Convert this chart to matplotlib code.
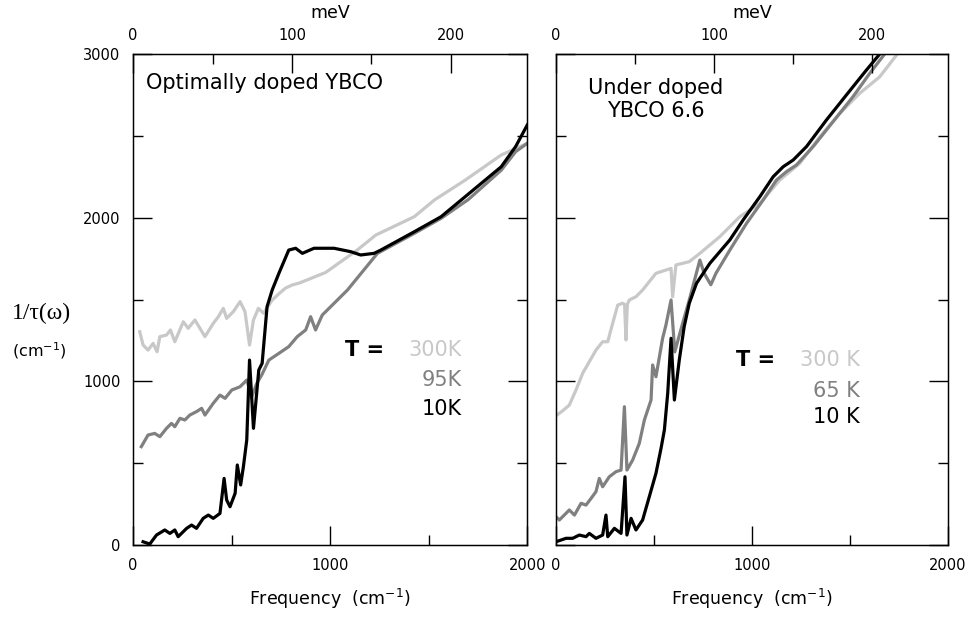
import numpy as np
import matplotlib.pyplot as plt
from matplotlib.ticker import MultipleLocator

# optimally doped YBCO, 1/tau(omega) in cm^-1
opt_10K_x = [51, 85, 119, 161, 187, 212, 229, 272, 297, 322, 356, 382, 407, 441, 462, 475, 492, 518, 529, 546,
             560, 577, 591, 611, 638, 655, 680, 706, 740, 790, 825, 859, 918, 1020, 1105, 1155, 1223, 1257,
             1427, 1563, 1685, 1868, 1941, 2000]
opt_10K_y = [20, 6, 61, 92, 71, 92, 51, 102, 122, 102, 163, 183, 163, 193, 407, 275, 234, 316, 489, 367,
             479, 642, 1130, 713, 1069, 1110, 1456, 1558, 1660, 1802, 1813, 1782, 1813, 1813, 1792, 1772, 1782, 1802,
             1914, 2006, 2128, 2311, 2434, 2566]
opt_95K_x = [42, 76, 110, 136, 170, 195, 212, 238, 263, 288, 322, 348, 365, 407, 441, 467, 501, 543, 577, 602,
             628, 653, 689, 740, 790, 833, 876, 901, 926, 960, 1088, 1240, 1427, 1563, 1700, 1868, 1941, 2000]
opt_95K_y = [601, 672, 682, 662, 713, 743, 723, 774, 764, 794, 815, 835, 794, 866, 916, 896, 947, 967, 1008, 906,
             988, 1039, 1130, 1171, 1212, 1273, 1314, 1395, 1314, 1405, 1558, 1782, 1904, 1996, 2110, 2290, 2403, 2454]
opt_300K_x = [34, 51, 76, 102, 122, 136, 170, 190, 212, 255, 280, 314, 365, 407, 433, 458, 475, 509, 543, 568,
              591, 611, 636, 662, 706, 740, 774, 808, 842, 884, 935, 977, 1088, 1130, 1232, 1427, 1529, 1686,
              1868, 2000]
opt_300K_y = [1303, 1222, 1191, 1232, 1181, 1273, 1283, 1314, 1242, 1364, 1324, 1375, 1273, 1354, 1395, 1446,
              1385, 1426, 1487, 1426, 1222, 1375, 1446, 1416, 1497, 1535, 1570, 1589, 1600, 1620, 1645, 1665,
              1760, 1795, 1894, 2006, 2108, 2230, 2383, 2454]

# under doped YBCO 6.6
und_10K_x = [0, 51, 85, 119, 153, 170, 204, 238, 255, 264, 298, 332, 352, 362, 383, 408, 442, 476, 510, 536,
             553, 570, 587, 604, 629, 654, 680, 717, 785, 887, 955, 1040, 1108, 1159, 1210, 1278, 1380, 1482,
             1584, 1652]
und_10K_y = [20, 41, 41, 61, 51, 71, 41, 61, 183, 51, 102, 71, 417, 61, 163, 92, 153, 295, 438, 591,
             703, 927, 1263, 886, 1130, 1334, 1477, 1599, 1721, 1864, 1986, 2128, 2250, 2311, 2352, 2434, 2597, 2750,
             2902, 3000]
und_65K_x = [0, 17, 68, 94, 128, 153, 179, 204, 221, 238, 272, 306, 332, 349, 362, 391, 425, 451, 485, 493,
             510, 544, 561, 587, 606, 646, 680, 734, 756, 790, 816, 887, 972, 1057, 1125, 1176, 1227, 1312, 1414,
             1516, 1601, 1677]
und_65K_y = [173, 153, 214, 183, 255, 244, 285, 326, 407, 356, 417, 448, 458, 845, 458, 519, 621, 764, 886, 1100,
             1028, 1263, 1344, 1497, 1180, 1354, 1497, 1741, 1660, 1590, 1660, 1802, 1965, 2108, 2230, 2281, 2322,
             2434, 2587, 2740, 2882, 3000]
und_300K_x = [0, 34, 68, 102, 136, 170, 204, 238, 264, 289, 315, 340, 350, 357, 364, 374, 408, 442, 476, 510,
              561, 587, 595, 612, 680, 734, 836, 938, 1040, 1142, 1244, 1346, 1448, 1550, 1652, 1738]
und_300K_y = [790, 820, 855, 947, 1049, 1120, 1191, 1242, 1242, 1354, 1466, 1477, 1470, 1253, 1470, 1497, 1517,
              1558, 1609, 1660, 1680, 1690, 1517, 1711, 1731, 1782, 1884, 2006, 2087, 2230, 2332, 2495, 2637, 2760,
              2861, 2994]

CM_PER_MEV = 8.0655
light = '#c8c8c8'
mid = '#808080'

fig = plt.figure(figsize=(9.71, 6.19), dpi=100)
ax1 = fig.add_axes([0.137, 0.1195, 0.406, 0.7933])
ax2 = fig.add_axes([0.5726, 0.1195, 0.4037, 0.7933])


def setup(ax, labelleft):
    ax.set_xlim(0, 2000)
    ax.set_ylim(0, 3000)
    ax.xaxis.set_major_locator(MultipleLocator(1000))
    ax.xaxis.set_minor_locator(MultipleLocator(500))
    ax.yaxis.set_major_locator(MultipleLocator(1000))
    ax.yaxis.set_minor_locator(MultipleLocator(500))
    ax.tick_params(which='both', direction='in', right=True, labelleft=labelleft,
                   labelsize=10.5, width=1)
    ax.tick_params(which='major', length=14, pad=9)
    ax.tick_params(which='minor', length=7)
    for s in ax.spines.values():
        s.set_linewidth(1)
    ax.set_xlabel('Frequency  (cm$^{-1}$)', fontsize=12.5, labelpad=10)

    top = ax.twiny()
    top.set_xlim(0, 2000 / CM_PER_MEV)
    top.xaxis.set_major_locator(MultipleLocator(100))
    top.xaxis.set_minor_locator(MultipleLocator(50))
    top.tick_params(axis='x', which='both', direction='in', labelsize=10.5, width=1)
    top.tick_params(axis='x', which='major', length=14, pad=8)
    top.tick_params(axis='x', which='minor', length=7)
    top.set_xlabel('meV', fontsize=12.5, labelpad=7)


setup(ax1, True)
setup(ax2, False)

lw = 2.3
ax1.plot(opt_300K_x, opt_300K_y, color=light, lw=lw)
ax1.plot(opt_95K_x, opt_95K_y, color=mid, lw=lw)
ax1.plot(opt_10K_x, opt_10K_y, color='black', lw=lw)

ax2.plot(und_300K_x, und_300K_y, color=light, lw=lw)
ax2.plot(und_65K_x, und_65K_y, color=mid, lw=lw)
ax2.plot(und_10K_x, und_10K_y, color='black', lw=lw)

ax1.text(0.033, 0.941, 'Optimally doped YBCO', transform=ax1.transAxes, fontsize=15, va='center')
ax2.text(0.255, 0.908, 'Under doped\nYBCO 6.6', transform=ax2.transAxes, fontsize=15,
         ha='center', va='center', linespacing=1.2)

ax1.text(0.637, 0.397, 'T =', transform=ax1.transAxes, fontsize=15, fontweight='bold', ha='right', va='center')
ax1.text(0.835, 0.397, '300K', transform=ax1.transAxes, fontsize=15, color=light, ha='right', va='center')
ax1.text(0.835, 0.336, '95K', transform=ax1.transAxes, fontsize=15, color=mid, ha='right', va='center')
ax1.text(0.835, 0.277, '10K', transform=ax1.transAxes, fontsize=15, color='black', ha='right', va='center')

ax2.text(0.559, 0.377, 'T =', transform=ax2.transAxes, fontsize=15, fontweight='bold', ha='right', va='center')
ax2.text(0.776, 0.377, '300 K', transform=ax2.transAxes, fontsize=15, color=light, ha='right', va='center')
ax2.text(0.776, 0.314, '65 K', transform=ax2.transAxes, fontsize=15, color=mid, ha='right', va='center')
ax2.text(0.776, 0.261, '10 K', transform=ax2.transAxes, fontsize=15, color='black', ha='right', va='center')

fig.text(0.012, 1 - 313 / 619, '1/\u03c4(\u03c9)', fontsize=17, family=['Liberation Serif', 'DejaVu Serif'],
         va='center', ha='left')
fig.text(0.012, 1 - 351 / 619, '(cm$^{-1}$)', fontsize=11.5, va='center', ha='left')

fig.savefig('out.png', dpi=100)
